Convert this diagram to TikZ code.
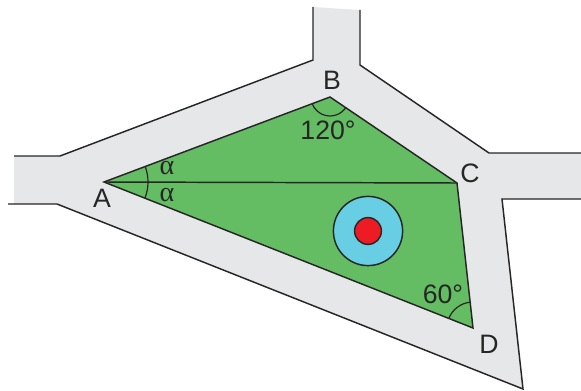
\documentclass[tikz,border=0pt]{standalone}
\usepackage{fontspec}
\setmainfont{Liberation Sans}
\newfontfamily\greekfont{Liberation Serif}
\usepackage{tikz}
\definecolor{roadgray}{RGB}{230,231,232}
\definecolor{fieldgreen}{RGB}{100,189,99}
\definecolor{ringblue}{RGB}{104,206,227}
\definecolor{eyered}{RGB}{237,28,36}
\begin{document}
\begin{tikzpicture}[x=0.75pt,y=0.75pt,
    edge/.style={line width=1.1pt,black!85},
    lbl/.style={inner sep=0pt,font=\fontsize{20}{22}\selectfont,text=black!85},
    greek/.style={lbl,font=\greekfont\fontsize{21}{22}\selectfont,text height=0.46em,text depth=0pt}]
        \useasboundingbox (0,0) rectangle (581,390);
        % roads
        \fill[roadgray] (14,234)--(60,234)--(313,330)--(313,383)--(360,380)--(360,325)--(489,237)--(581,237)
            --(581,191)--(502,191)--(523,1)--(57,186)--(14,186)--cycle;
        \draw[edge] (14,234)--(60,234)--(313,330)--(313,383);
        \draw[edge] (360,380)--(360,325)--(489,237)--(581,237);
        \draw[edge] (581,191)--(502,191)--(523,1)--(57,186)--(8,186);
        % field
        \coordinate (A) at (104,208); \coordinate (B) at (330,293);
        \coordinate (C) at (457,207); \coordinate (D) at (473,62);
        \filldraw[edge,fill=fieldgreen] (A)--(B)--(C)--(D)--cycle;
        \draw[edge] (A)--(C);
        % target
        \coordinate (T) at (368,159);
        \filldraw[edge,fill=ringblue] (T) circle (34.6);
        \filldraw[edge,fill=eyered] (T) circle (13.4);
        % angles
        \draw[edge,line width=0.9pt] ([shift={(-21.6:44)}]A) arc[start angle=-21.6,end angle=20.6,radius=44];
        \draw[edge,line width=0.9pt] ([shift={(200.6:19)}]B) arc[start angle=200.6,end angle=325.9,radius=19];
        \draw[edge,line width=0.9pt] ([shift={(96.3:26)}]D) arc[start angle=96.3,end angle=158.4,radius=26];
        \node[lbl] (labA) at (102,192) {A};
        \node[lbl] (labB) at (332,310) {B};
        \node[lbl] (labC) at (470,217) {C};
        \node[lbl] (labD) at (489,46) {D};
        \node[greek] (alpha1) at (167,219) {α};
        \node[greek] (alpha2) at (167,192) {α};
        \node[lbl] (angB) at (328,260) {120°};
        \node[lbl] (angD) at (443,96) {60°};
    \end{tikzpicture}
\end{document}
